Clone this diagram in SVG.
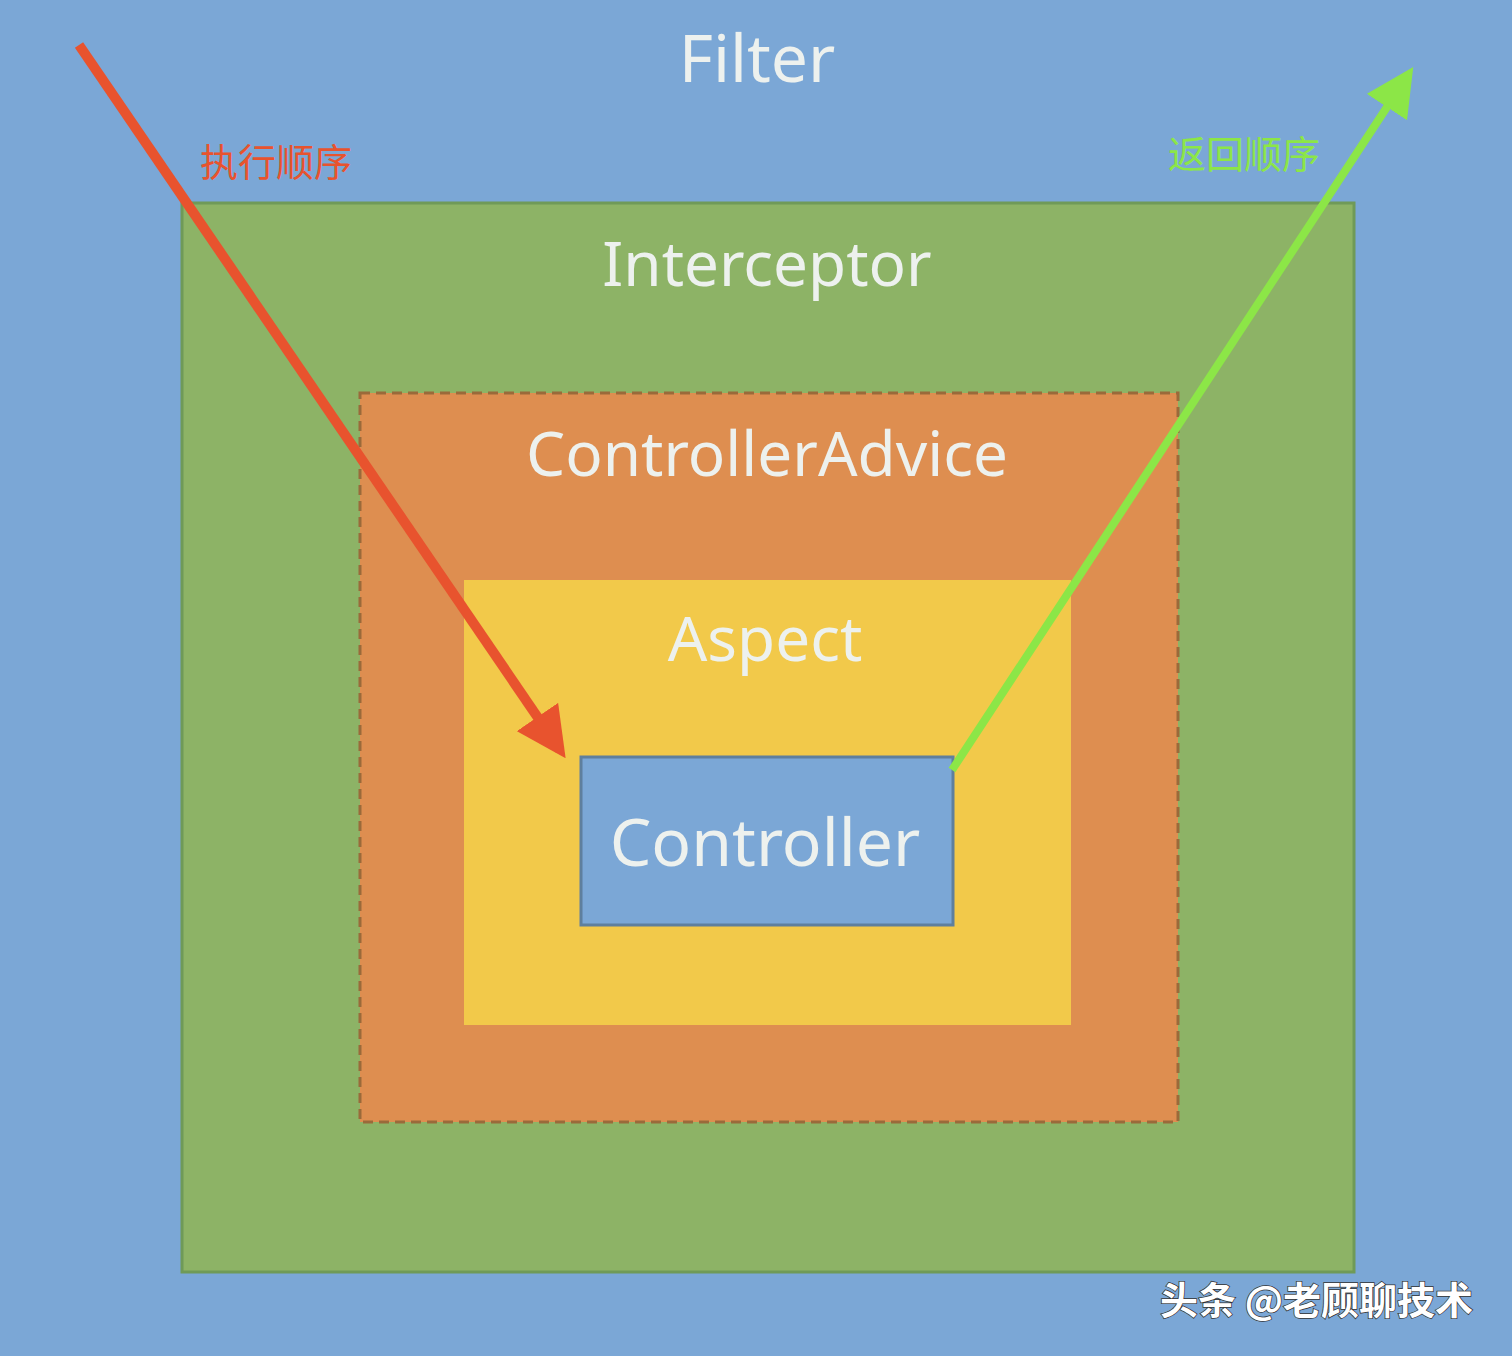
<svg xmlns="http://www.w3.org/2000/svg" width="1512" height="1356" viewBox="0 0 1512 1356">
<style>
.t{font-family:"Noto Sans","Open Sans",sans-serif;fill:#EDF1EE;text-anchor:middle}
.cn{font-family:"Noto Sans CJK SC",sans-serif;font-size:38px}
</style>
<defs>
<marker id="ar" viewBox="0 0 10 10" refX="8" refY="5" markerWidth="5" markerHeight="5" orient="auto" markerUnits="strokeWidth"><path d="M0,0L10,5L0,10z" fill="#E8532E"/></marker>
<marker id="ag" viewBox="0 0 10 10" refX="8" refY="5" markerWidth="6" markerHeight="6" orient="auto" markerUnits="strokeWidth"><path d="M0,0L10,5L0,10z" fill="#8CE647"/></marker>
</defs>
<g id="filter"><rect x="0" y="0" width="1512" height="1356" fill="#7BA7D6"/><text class="t" x="757" y="82" font-size="66">Filter</text></g>
<g id="interceptor"><rect x="182" y="203" width="1172" height="1069" fill="#8DB366" stroke="#6F9A58" stroke-width="3"/><text class="t" x="767" y="286" font-size="62">Interceptor</text></g>
<g id="controllerAdvice"><rect x="360" y="393" width="818" height="729" fill="#DE8E50" stroke="#9A6A3A" stroke-width="3" stroke-dasharray="10,6"/><text class="t" x="767" y="476" font-size="62">ControllerAdvice</text></g>
<g id="aspect"><rect x="464" y="580" width="607" height="445" fill="#F2C94A"/><text class="t" x="765" y="661" font-size="62">Aspect</text></g>
<g id="controller"><rect x="581" y="757" width="372" height="168" fill="#7BA7D6" stroke="#5E7F9E" stroke-width="3"/><text class="t" x="765" y="866" font-size="66">Controller</text></g>
<g id="connectors">
<line x1="79" y1="45" x2="560" y2="750" stroke="#E8532E" stroke-width="10" marker-end="url(#ar)"/>
<line x1="952" y1="770" x2="1408" y2="75" stroke="#8CE647" stroke-width="8" marker-end="url(#ag)"/>
</g>
<text class="cn" x="200" y="176" fill="#E8532E">执行顺序</text>
<text class="cn" x="1168" y="168" fill="#8CE647">返回顺序</text>
<text x="1160" y="1314" font-family="Noto Sans CJK SC,sans-serif" font-size="38" font-weight="bold" fill="#fff" stroke="#333" stroke-width="1.5" paint-order="stroke">头条 @老顾聊技术</text>
</svg>
